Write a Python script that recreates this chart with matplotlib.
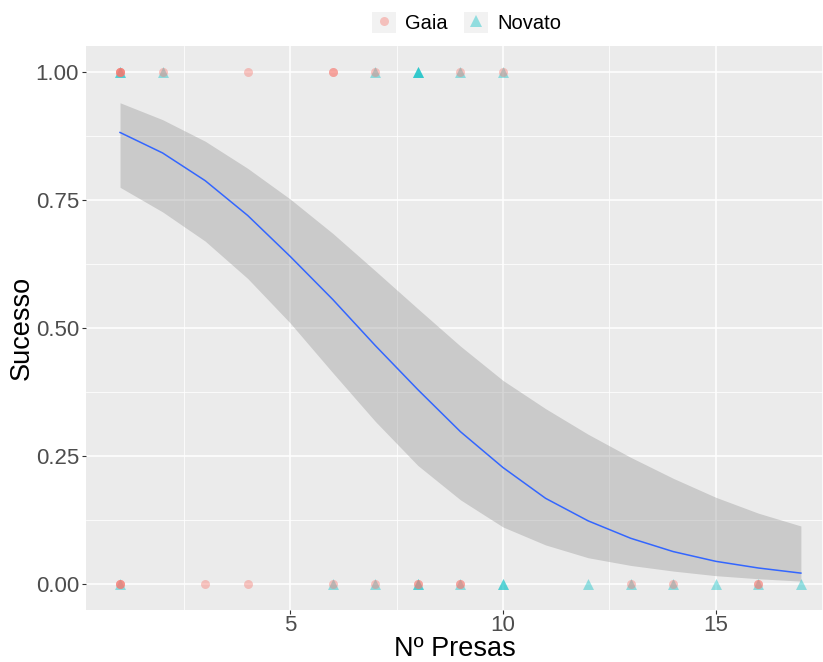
import numpy as np
import matplotlib.pyplot as plt
from matplotlib.lines import Line2D
from matplotlib.patches import Patch

plt.rcParams['font.family'] = ['Liberation Sans', 'DejaVu Sans']

# ---- observed points (x = n. presas, repeated entries = overlapping points)
gaia_x_1 = [1, 1, 1, 1, 2, 4, 6, 6, 7, 9, 10]
gaia_x_0 = [1, 1, 1, 3, 4, 6, 7, 8, 8, 9, 9, 13, 14, 16, 16]
novato_x_1 = [1, 1, 2, 7, 8, 8, 8, 9, 10]
novato_x_0 = [1, 6, 7, 8, 8, 9, 10, 10, 12, 13, 14, 15, 16, 17]

# ---- logistic fit + 95% band
fit_x = [1, 2, 3, 4, 5, 6, 7, 8, 9, 10, 11, 12, 13, 14, 15, 16, 17]
fit_y = [0.882, 0.842, 0.788, 0.720, 0.640, 0.556, 0.466, 0.380, 0.298, 0.228,
         0.168, 0.124, 0.090, 0.064, 0.045, 0.032, 0.022]
fit_hi = [0.940, 0.907, 0.865, 0.812, 0.752, 0.685, 0.612, 0.538, 0.465, 0.398,
          0.343, 0.293, 0.248, 0.207, 0.170, 0.139, 0.114]
fit_lo = [0.775, 0.727, 0.670, 0.597, 0.510, 0.413, 0.318, 0.232, 0.165, 0.112,
          0.077, 0.052, 0.037, 0.026, 0.017, 0.011, 0.0064]

RED = '#F8766D'
CYAN = '#00BFC4'
ALPHA = 0.4

fig = plt.figure(figsize=(8.23, 6.62), dpi=100)
ax = fig.add_axes([86 / 823, 52 / 662, 1 - 86 / 823, 563.6 / 662])
ax.set_facecolor('#EBEBEB')

ax.fill_between(fit_x, fit_lo, fit_hi, color='#999999', alpha=0.4, lw=0, zorder=2)
ax.plot(fit_x, fit_y, color='#3366FF', lw=1.1, zorder=3)

ax.scatter(novato_x_1, np.ones(len(novato_x_1)), marker='^', s=62, color=CYAN,
           alpha=ALPHA, lw=0, zorder=4)
ax.scatter(novato_x_0, np.zeros(len(novato_x_0)), marker='^', s=62, color=CYAN,
           alpha=ALPHA, lw=0, zorder=4)
ax.scatter(gaia_x_1, np.ones(len(gaia_x_1)), marker='o', s=42, color=RED,
           alpha=ALPHA, lw=0, zorder=5)
ax.scatter(gaia_x_0, np.zeros(len(gaia_x_0)), marker='o', s=42, color=RED,
           alpha=ALPHA, lw=0, zorder=5)

ax.set_xlim(0.2, 17.52)
ax.set_ylim(-0.05, 1.05)
ax.set_xticks([5, 10, 15])
ax.set_yticks([0, 0.25, 0.5, 0.75, 1.0])
ax.set_yticklabels(['0.00', '0.25', '0.50', '0.75', '1.00'])
ax.set_xticks([2.5, 7.5, 12.5, 17.5], minor=True)
ax.set_yticks([0.125, 0.375, 0.625, 0.875], minor=True)
ax.grid(which='major', color='white', lw=1.1, zorder=0)
ax.grid(which='minor', color='white', lw=0.55, zorder=0)
ax.set_axisbelow(True)
for s in ax.spines.values():
    s.set_visible(False)
ax.tick_params(which='major', length=3, width=0.8, color='#333333',
               labelcolor='#4D4D4D', labelsize=16, pad=2)
ax.tick_params(axis='x', which='major', pad=0.5)
ax.tick_params(which='minor', length=0)

ax.set_xlabel('Nº Presas', fontsize=19.5, labelpad=0)
ax.set_ylabel('Sucesso', fontsize=19.5, labelpad=1)

key_bg = Patch(facecolor='#F2F2F2', edgecolor='none')
handles = [
    (key_bg, Line2D([], [], marker='o', ls='', color=RED, alpha=ALPHA, markersize=6.5, mew=0)),
    (key_bg, Line2D([], [], marker='^', ls='', color=CYAN, alpha=ALPHA, markersize=8, mew=0)),
]
fig.legend(handles, ['Gaia', 'Novato'], loc='center', bbox_to_anchor=(0.567, 0.966),
           ncol=2, frameon=False, fontsize=14.5, handlelength=1.2, handleheight=1.2,
           handletextpad=0.45, columnspacing=0.8)

fig.savefig('out.png', dpi=100)
